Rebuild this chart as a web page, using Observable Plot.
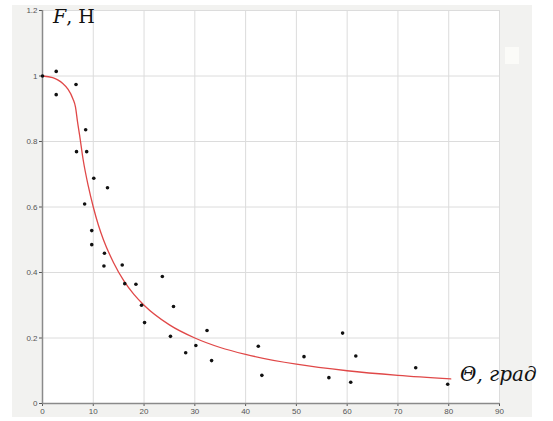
<!DOCTYPE html>
<html>
<head>
<meta charset="utf-8">
<script src="https://cdn.jsdelivr.net/npm/d3@7"></script>
<script src="https://cdn.jsdelivr.net/npm/@observablehq/plot@0.6"></script>
<style>
  html, body { margin: 0; padding: 0; background: #fff; }
  #wrap { position: relative; width: 553px; height: 421px; overflow: hidden; }
  #panel { position: absolute; left: 12px; top: 5px; width: 520px; height: 412px; background: #f2f2f0; }
  #icon { position: absolute; left: 505px; top: 47px; width: 14px; height: 17px; background: #fbfbf8; }
  #chart { position: absolute; left: 0; top: 0; }
  .ttl { position: absolute; font-family: "DejaVu Serif", "Liberation Serif", serif; color: #111; white-space: nowrap; line-height: 1; }
</style>
</head>
<body>
<div id="wrap">
  <div id="panel"></div>
  <div id="icon"></div>
  <div id="chart"></div>
  <div class="ttl" style="left:53px; top:7px; font-size:19px;"><i>F</i>, Н</div>
  <div class="ttl" style="left:460px; top:364px; font-size:20px;"><i>Θ, град</i></div>
</div>
<script>
// measured points (angle Θ in degrees, force F)
const pointTheta = [0, 2.7, 2.7, 6.6, 8.5, 6.7, 8.7, 10.1, 12.8, 8.3, 9.7, 9.7, 12.2, 12.1, 15.7, 16.2, 18.4, 19.5, 20.1, 23.6, 25.8, 25.2, 28.2, 30.2, 32.4, 33.3, 42.5, 43.2, 51.5, 56.4, 59.1, 60.7, 61.7, 73.5, 79.8];
const pointF     = [1.0, 1.014, 0.943, 0.974, 0.836, 0.769, 0.769, 0.688, 0.659, 0.609, 0.528, 0.485, 0.459, 0.42, 0.423, 0.366, 0.364, 0.30, 0.247, 0.388, 0.296, 0.205, 0.155, 0.177, 0.223, 0.131, 0.175, 0.086, 0.143, 0.079, 0.215, 0.065, 0.145, 0.109, 0.059];

// fitted curve
const curveTheta = [0, 2, 3, 4, 5, 6, 6.5, 6.9, 7.3, 8, 9, 10, 11, 12, 14, 16, 18, 20, 25, 30, 35, 40, 50, 60, 70, 80.4];
const curveF     = [1.0, 0.995, 0.988, 0.977, 0.96, 0.93, 0.905, 0.86, 0.82, 0.745, 0.665, 0.6, 0.545, 0.5, 0.43, 0.375, 0.333, 0.3, 0.24, 0.2, 0.171, 0.15, 0.12, 0.1, 0.086, 0.075];

const xTicks = [0, 10, 20, 30, 40, 50, 60, 70, 80, 90];
const yTicks = [0, 0.2, 0.4, 0.6, 0.8, 1, 1.2];

const points = pointTheta.map((t, i) => ({theta: t, f: pointF[i]}));
const curve = curveTheta.map((t, i) => ({theta: t, f: curveF[i]}));

const chart = Plot.plot({
  width: 553,
  height: 421,
  marginLeft: 42,
  marginRight: 54,
  marginTop: 10,
  marginBottom: 18,
  style: {background: "transparent", fontFamily: "Liberation Sans, Arial, sans-serif", fontSize: "8px", color: "#555"},
  x: {domain: [0, 90], ticks: xTicks, label: null, tickSize: 3, tickPadding: 2, tickFormat: d => String(d)},
  y: {domain: [0, 1.2], ticks: yTicks, label: null, tickSize: 3, tickPadding: 2, tickFormat: d => String(d)},
  marks: [
    Plot.frame({fill: "white", stroke: "none"}),
    Plot.gridX(xTicks, {stroke: "#dcdcdc", strokeOpacity: 1, strokeWidth: 1}),
    Plot.gridY(yTicks, {stroke: "#dcdcdc", strokeOpacity: 1, strokeWidth: 1}),
    Plot.ruleX([0], {stroke: "#8a8a8a", strokeWidth: 1.5}),
    Plot.ruleY([0], {stroke: "#8a8a8a", strokeWidth: 1.5}),
    Plot.line(curve, {x: "theta", y: "f", stroke: "#e04848", strokeWidth: 1.3, curve: "monotone-x"}),
    Plot.dot(points, {x: "theta", y: "f", r: 1.8, fill: "#111", stroke: "none"})
  ]
});
document.getElementById("chart").appendChild(chart);
</script>
</body>
</html>
